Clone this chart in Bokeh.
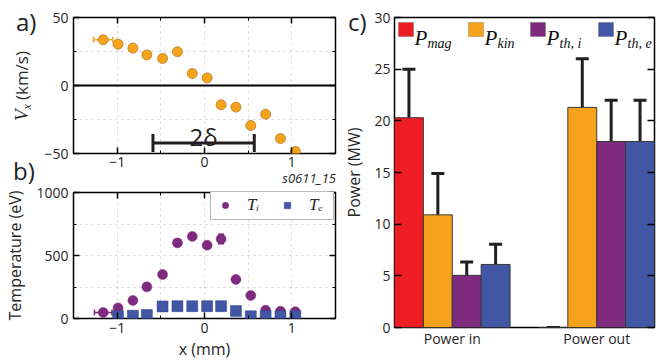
import math
from bokeh.plotting import figure
from bokeh.layouts import row, column
from bokeh.models import (ColumnDataSource, Whisker, TeeHead, FixedTicker, LinearAxis,
                          Span, Label, BoxAnnotation, Legend, LegendItem, Range1d, Div)
from bokeh.embed import file_html
from bokeh.resources import INLINE

# ---------------- data ----------------
x_mm = [-1.16, -0.99, -0.82, -0.66, -0.48, -0.31, -0.14, 0.03, 0.19, 0.36, 0.53, 0.70, 0.87, 1.04]
vx_kms = [33.6, 30.4, 27.5, 22.5, 19.9, 24.8, 8.8, 5.6, -14.2, -15.9, -29.4, -21.1, -39.0, -48.5]
vx_xerr = [0.11, 0, 0, 0, 0, 0, 0, 0, 0, 0, 0, 0, 0, 0]

ti_ev = [47, 84, 143, 251, 349, 600, 651, 582, 631, 310, 182, 66, 57, 54]
ti_err = [0, 0, 0, 0, 0, 0, 0, 0, 38, 0, 0, 0, 0, 0]
ti_xerr = [0.10, 0, 0, 0, 0, 0, 0, 0, 0, 0, 0, 0, 0, 0]

te_x_mm = [-0.99, -0.82, -0.66, -0.48, -0.31, -0.14, 0.03, 0.19, 0.36, 0.53, 0.70, 0.87, 1.04]
te_ev = [18, 22, 27, 96, 98, 98, 98, 98, 59, 18, 18, 18, 18]

delta_x = [-0.59, 0.57]
delta_y = -42.2
shot_label = "s0611_15"

categories = ["Power in", "Power out"]
p_mag = [20.3, 0.0]
p_mag_err = [4.7, 0.0]
p_kin = [10.9, 21.3]
p_kin_err = [4.0, 4.7]
p_thi = [5.05, 18.0]
p_thi_err = [1.3, 4.0]
p_the = [6.1, 18.0]
p_the_err = [1.95, 4.0]

# ---------------- style ----------------
FONT = "Open Sans"
SERIF = "Liberation Serif"
TXT = "#262626"
ORANGE = "#F7A21B"
RED = "#EE1D24"
PURPLE = "#7E2A7E"
BLUE = "#4256A6"
ERR = "#231F20"


def style_axis(ax, ticks, minor=None, overrides=None, labels=True, tick_len=6):
    ax.ticker = FixedTicker(ticks=ticks, minor_ticks=minor or [])
    ax.axis_line_color = None
    ax.major_tick_in = tick_len
    ax.major_tick_out = 0
    ax.minor_tick_in = 3
    ax.minor_tick_out = 0
    ax.major_tick_line_color = "black"
    ax.major_tick_line_width = 1.5
    ax.minor_tick_line_color = "black"
    ax.minor_tick_line_width = 1
    ax.major_label_text_font = FONT
    ax.major_label_text_color = TXT
    ax.axis_label_text_font = FONT
    ax.axis_label_text_color = TXT
    ax.axis_label_text_font_style = "normal"
    ax.axis_label_text_font_size = "16px"
    if overrides:
        ax.major_label_overrides = overrides
    if labels:
        ax.major_label_text_font_size = "14px"
    else:
        ax.major_label_text_font_size = "0px"
        ax.major_label_standoff = 0
        ax.major_label_overrides = {t: "" for t in ticks}


def base_fig(w, h, xr, yr, left, right, top, bottom):
    p = figure(width=w, height=h, x_range=xr, y_range=yr, output_backend="svg",
               toolbar_location=None, min_border_left=left, min_border_right=right,
               min_border_top=top, min_border_bottom=bottom,
               background_fill_color="white", border_fill_color="white")
    p.outline_line_color = "black"
    p.outline_line_width = 1.5
    p.outline_line_alpha = 1.0
    return p


def add_whiskers(p, base, lower, upper, dim, color, width, head):
    src = ColumnDataSource(dict(base=base, lower=lower, upper=upper))
    p.add_layout(Whisker(source=src, base="base", lower="lower", upper="upper",
                         dimension=dim, line_color=color, line_width=width,
                         upper_head=TeeHead(size=head, line_color=color, line_width=width),
                         lower_head=TeeHead(size=head, line_color=color, line_width=width)))


# ---------------- panel a ----------------
pa = base_fig(340, 182, Range1d(-1.5, 1.5), Range1d(-50, 50), 73, 5, 17, 29)
style_axis(pa.xaxis[0], [-1, 0, 1], [-1.5, -0.5, 0.5, 1.5], {-1: "\u22121"})
pa.xaxis[0].major_label_standoff = 3
style_axis(pa.yaxis[0], [-50, 0, 50], [-25, 25], {-50: "\u221250"})
pa.yaxis[0].major_label_standoff = 5
ra = LinearAxis()
pa.add_layout(ra, "right")
style_axis(ra, [-50, 0, 50], [-25, 25], labels=False)
ta = LinearAxis()
pa.add_layout(ta, "above")
style_axis(ta, [-1, 0, 1], [-1.5, -0.5, 0.5, 1.5], labels=False)
for g in pa.grid:
    g.grid_line_color = "#cfcfcf"
    g.grid_line_dash = "dotted"
    g.grid_line_width = 1
pa.xgrid.ticker = FixedTicker(ticks=[-1, -0.5, 0, 0.5, 1])
pa.ygrid.ticker = FixedTicker(ticks=[-25, 25])

pa.add_layout(Span(location=0, dimension="width", line_color="black", line_width=2))

xe = [(x, y, e) for x, y, e in zip(x_mm, vx_kms, vx_xerr) if e > 0]
add_whiskers(pa, [r[1] for r in xe], [r[0] - r[2] for r in xe], [r[0] + r[2] for r in xe],
             "width", ORANGE, 1.5, 6)
pa.scatter(x=x_mm, y=vx_kms, size=10, marker="circle", fill_color=ORANGE,
           line_color="#b07d2a", line_width=0.8)

# 2 delta bracket
add_whiskers(pa, [delta_y], [delta_x[0]], [delta_x[1]], "width", ERR, 3, 18)
pa.add_layout(Label(x=(delta_x[0] + delta_x[1]) / 2, y=delta_y + 5, text="2\u03b4",
                    text_font=FONT, text_font_size="24px", text_color=ERR,
                    text_align="center", text_baseline="alphabetic"))

# ---------------- panel b ----------------
pb = base_fig(340, 180, Range1d(-1.5, 1.5), Range1d(0, 1000), 73, 5, 10, 35)
style_axis(pb.xaxis[0], [-1, 0, 1], [-1.5, -0.5, 0.5, 1.5], {-1: "\u22121"})
pb.xaxis[0].axis_label = "x (mm)"
pb.xaxis[0].major_label_standoff = 4
pb.xaxis[0].axis_label_standoff = 2
style_axis(pb.yaxis[0], [0, 500, 1000], [250, 750])
pb.yaxis[0].axis_label = "Temperature (eV)"
pb.yaxis[0].major_label_standoff = 5
pb.yaxis[0].axis_label_standoff = 7
rb = LinearAxis()
pb.add_layout(rb, "right")
style_axis(rb, [0, 500, 1000], [250, 750], labels=False)
tb = LinearAxis()
pb.add_layout(tb, "above")
style_axis(tb, [-1, 0, 1], [-1.5, -0.5, 0.5, 1.5], labels=False)
for g in pb.grid:
    g.grid_line_color = "#cfcfcf"
    g.grid_line_dash = "dotted"
    g.grid_line_width = 1
pb.xgrid.ticker = FixedTicker(ticks=[-1, -0.5, 0, 0.5, 1])
pb.ygrid.ticker = FixedTicker(ticks=[250, 500, 750])

ye = [(x, y, e) for x, y, e in zip(x_mm, ti_ev, ti_err) if e > 0]
add_whiskers(pb, [r[0] for r in ye], [r[1] - r[2] for r in ye], [r[1] + r[2] for r in ye],
             "height", PURPLE, 1.5, 6)
xe_b = [(x, y, e) for x, y, e in zip(x_mm, ti_ev, ti_xerr) if e > 0]
add_whiskers(pb, [r[1] for r in xe_b], [r[0] - r[2] for r in xe_b], [r[0] + r[2] for r in xe_b],
             "width", PURPLE, 1.5, 6)
r_ti = pb.scatter(x=x_mm, y=ti_ev, size=10, marker="circle", fill_color=PURPLE,
                  line_color=PURPLE, line_width=0.5)
r_te = pb.scatter(x=te_x_mm, y=te_ev, size=11, marker="square", fill_color=BLUE,
                  line_color="#2f4390", line_width=0.5)

leg_b = Legend(items=[LegendItem(label="T\u1d62", renderers=[r_ti]),
                      LegendItem(label="T\u2091", renderers=[r_te])],
               location=(137, 98), orientation="horizontal", margin=0, padding=4,
               spacing=10, glyph_width=20, glyph_height=16, label_standoff=12,
               label_height=16, label_text_font=SERIF, label_text_font_style="italic",
               label_text_font_size="17px", label_text_color=TXT,
               border_line_color="#6e6e6e", border_line_width=1.2,
               background_fill_color="white", background_fill_alpha=1)
pb.add_layout(leg_b)

# ---------------- panel c ----------------
pc = base_fig(320, 362, Range1d(-0.4, 1.4), Range1d(0, 30), 53, 6, 17, 35)
style_axis(pc.xaxis[0], [0, 1], None, {0: categories[0], 1: categories[1]}, tick_len=0)
pc.xaxis[0].major_label_standoff = 1
style_axis(pc.yaxis[0], [0, 5, 10, 15, 20, 25, 30], None, tick_len=7)
pc.yaxis[0].axis_label = "Power (MW)"
pc.yaxis[0].major_label_standoff = 4
pc.yaxis[0].axis_label_standoff = 6
rc = LinearAxis()
pc.add_layout(rc, "right")
style_axis(rc, [0, 5, 10, 15, 20, 25, 30], None, labels=False, tick_len=7)
pc.grid.visible = False

series = [(p_mag, p_mag_err, RED), (p_kin, p_kin_err, ORANGE),
          (p_thi, p_thi_err, PURPLE), (p_the, p_the_err, BLUE)]
n = len(series)
bw = 0.2
wb, wl, wu = [], [], []
for k, (vals, errs, col) in enumerate(series):
    xs = [i + (k - (n - 1) / 2) * bw for i in range(len(categories))]
    pc.vbar(x=xs, top=vals, width=bw, bottom=0, fill_color=col, line_color="#3a3a3a",
            line_width=1)
    wb += xs
    wl += [v - e for v, e in zip(vals, errs)]
    wu += [v + e for v, e in zip(vals, errs)]
add_whiskers(pc, wb, wl, wu, "height", ERR, 3, 13)

# legend c (patches + TeX-like labels)
leg_names = [("mag", RED), ("kin", ORANGE), ("th, i", PURPLE), ("th, e", BLUE)]
leg_x = [4, 74, 136, 204]
for (sub, col), lx in zip(leg_names, leg_x):
    pc.add_layout(BoxAnnotation(left=lx, right=lx + 15, bottom=291, top=305,
                                left_units="screen", right_units="screen",
                                bottom_units="screen", top_units="screen",
                                fill_color=col, fill_alpha=1, line_color="#333333",
                                line_width=0.8))
    pc.add_layout(Label(x=lx + 16, y=290, x_units="screen", y_units="screen", text="P",
                        text_font=SERIF, text_font_style="italic", text_font_size="21px",
                        text_color="#111111", text_baseline="alphabetic"))
    pc.add_layout(Label(x=lx + 29, y=284, x_units="screen", y_units="screen", text=sub,
                        text_font=SERIF, text_font_style="italic", text_font_size="14px",
                        text_color="#111111", text_baseline="alphabetic"))

# ---------------- HTML overlay for texts outside the plot frames ----------------
def span(left, top, text, size, font=FONT, style="normal", extra=""):
    return (f'<span style="position:absolute;left:{left}px;top:{top}px;'
            f"font-family:'{font}';font-style:{style};font-size:{size}px;line-height:1;"
            f'white-space:nowrap;color:#222222;{extra}">{text}</span>')


parts = [
    span(16, 10, "a)", 24),
    span(13, 159, "b)", 24),
    span(348, 10, "c)", 24),
    (f'<span style="position:absolute;right:{660 - 336}px;top:172px;'
     f"font-family:'{FONT}';font-style:italic;font-size:13px;line-height:1;"
     f'white-space:nowrap;color:{TXT};">{shot_label}</span>'),
    (f'<span style="position:absolute;left:13px;top:121px;transform:rotate(-90deg);'
     f"transform-origin:0 0;font-family:'{FONT}';font-size:17px;line-height:17px;"
     f'white-space:nowrap;color:{TXT};">'
     f"<span style=\"font-family:'{SERIF}';font-style:italic;font-size:19px\">V</span>"
     f"<span style=\"font-family:'{SERIF}';font-style:italic;font-size:12px;"
     f'position:relative;top:3px">x</span>'
     f'<span style="margin-left:4px">(km/s)</span></span>'),
]
html = ('<div style="position:absolute;left:0;top:0;width:660px;height:362px;">'
        + "".join(parts) + "</div>")
ov = Div(text=html, width=660, height=0, margin=0,
         styles={"position": "relative", "z-index": "10", "pointer-events": "none",
                 "overflow": "visible", "margin": "0px", "padding": "0px"})

layout = column(ov, row(column(pa, pb), pc))
open("out.html", "w").write(file_html(layout, INLINE))
